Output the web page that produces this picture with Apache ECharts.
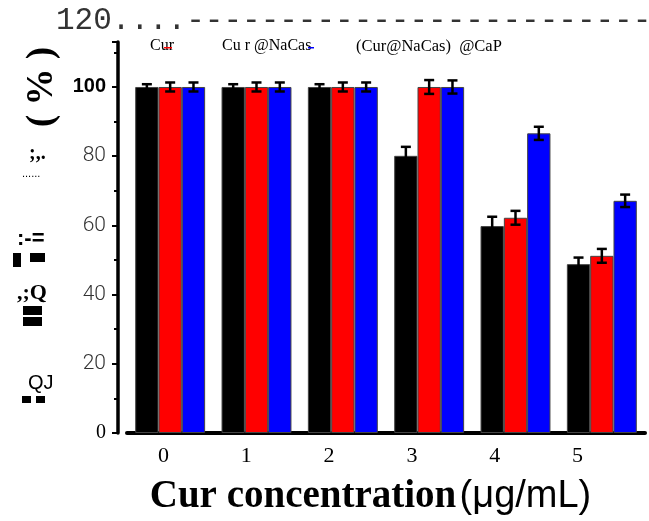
<!DOCTYPE html>
<html>
<head>
<meta charset="utf-8">
<script src="https://cdn.jsdelivr.net/npm/echarts@6/dist/echarts.min.js"></script>
<style>html,body{margin:0;padding:0;background:#fff;}#c{width:649px;height:521px;}</style>
</head>
<body>
<div id="c"></div>
<script>
var categories = ['0', '1', '2', '3', '4', '5'];
var seriesNames = ['Cur', 'Cur@NaCas', '(Cur@NaCas)@CaP'];
var curValues = [100, 100, 100, 80.1, 59.8, 48.8];
var curErrors = [0.8, 0.8, 0.8, 2.6, 2.7, 1.9];
var nacasValues = [100, 100, 100, 100, 62.2, 51.2];
var nacasErrors = [1.3, 1.3, 1.3, 2.0, 2.0, 2.0];
var capValues = [100, 100, 100, 100, 86.6, 67.1];
var capErrors = [1.3, 1.3, 1.3, 1.9, 1.9, 1.8];
var yTickLabels = ['0', '20', '40', '60', '80', '100'];

var colors = ['#000000', '#ff0000', '#0000ff'];
var valuesList = [curValues, nacasValues, capValues];
var errorsList = [curErrors, nacasErrors, capErrors];
var GAP = 0.19;

var chart = echarts.init(document.getElementById('c'));
var series = [];
valuesList.forEach(function (vals, i) {
  series.push({
    name: seriesNames[i], type: 'bar', xAxisIndex: 0, yAxisIndex: 0,
    data: vals, barGap: '0%', barCategoryGap: (GAP * 100) + '%',
    itemStyle: { color: colors[i], borderColor: '#444', borderWidth: 1 },
    silent: true, z: 2
  });
});
valuesList.forEach(function (vals, i) {
  series.push({
    name: seriesNames[i] + ' err', type: 'custom', xAxisIndex: 0, yAxisIndex: 0, z: 5, silent: true,
    data: vals.map(function (v, k) { return [k, v, errorsList[i][k]]; }),
    renderItem: function (params, api) {
      var cat = api.value(0), v = api.value(1), e = api.value(2);
      var c = api.coord([cat, v]);
      var band = api.size([1, 0])[0];
      var bw = band * (1 - GAP) / 3;
      var x = c[0] + (i - 1) * bw;
      var yt = api.coord([cat, v + e])[1];
      var yb = api.coord([cat, v - e])[1];
      var hw = 5;
      var st = { stroke: '#000', lineWidth: 2.5 };
      return { type: 'group', children: [
        { type: 'line', shape: { x1: x, y1: yt, x2: x, y2: yb }, style: st },
        { type: 'line', shape: { x1: x - hw, y1: yt, x2: x + hw, y2: yt }, style: st },
        { type: 'line', shape: { x1: x - hw, y1: yb, x2: x + hw, y2: yb }, style: st }
      ] };
    }
  });
});

var option = {
  animation: false,
  backgroundColor: '#fff',
  grid: [
    { left: 127, right: 4, top: 42, bottom: 88, containLabel: false },
    { left: 122, right: 30, top: 42, bottom: 88, containLabel: false }
  ],
  xAxis: [
    { type: 'category', gridIndex: 0, data: categories,
      axisLine: { show: true, lineStyle: { color: '#000', width: 4 } },
      axisTick: { show: false }, axisLabel: { show: false }, splitLine: { show: false } },
    { type: 'category', gridIndex: 1, data: categories,
      axisLine: { show: false }, axisTick: { show: false },
      axisLabel: { show: true, margin: 25, fontFamily: 'Liberation Serif', fontSize: 22, color: '#000' },
      name: '{a|Cur concentration} {b|(μg/mL)}', nameLocation: 'middle', nameGap: 57,
      nameTextStyle: { rich: {
        a: { fontFamily: 'Liberation Serif', fontWeight: 'bold', fontSize: 39, color: '#000' },
        b: { fontFamily: 'Liberation Sans', fontSize: 38, color: '#000' }
      } } }
  ],
  yAxis: [
    { type: 'value', gridIndex: 0, min: 0, max: 113, interval: 20, offset: 9,
      axisLine: { show: true, lineStyle: { color: '#000', width: 3.5 } },
      axisTick: { show: true, inside: false, length: 6, lineStyle: { color: '#000', width: 2 } },
      minorTick: { show: true, splitNumber: 2, length: 4, lineStyle: { color: '#000', width: 2 } },
      splitLine: { show: false },
      axisLabel: { showMaxLabel: false, margin: 12,
        formatter: function (v) {
          var s = String(v);
          if (yTickLabels.indexOf(s) < 0) return '';
          if (v === 100) return '{b|' + s + '}';
          if (v === 0) return '{s|' + s + '}';
          return '{l|' + s + '}';
        },
        rich: {
          b: { fontFamily: 'Liberation Sans', fontWeight: 'bold', fontSize: 20, color: '#000' },
          s: { fontFamily: 'Liberation Serif', fontSize: 20, color: '#000' },
          l: { fontFamily: 'Roboto', fontWeight: 300, fontSize: 21, color: '#333' }
        } } },
    { type: 'value', gridIndex: 1, min: 0, max: 113, show: false }
  ],
  series: series,
  graphic: [
    { type: 'text', left: 56, top: 5, silent: true,
      style: { text: '120....----------------------------', fontFamily: 'Liberation Mono', fontSize: 31, fill: '#333' } },
    { type: 'text', left: 150, top: 38, silent: true, style: { text: 'Cur', fontFamily: 'Liberation Serif', fontSize: 16, fill: '#000' } },
    { type: 'rect', shape: { x: 164, y: 47, width: 8, height: 1.5 }, style: { fill: '#ff0000' }, silent: true },
    { type: 'text', left: 222, top: 38, silent: true, style: { text: 'Cu r @NaCas', fontFamily: 'Liberation Serif', fontSize: 16, fill: '#000' } },
    { type: 'rect', shape: { x: 308, y: 47, width: 6, height: 1.5 }, style: { fill: '#0000ff' }, silent: true },
    { type: 'text', left: 356, top: 38, silent: true, style: { text: '(Cur@NaCas)  @CaP', fontFamily: 'Liberation Serif', fontSize: 16.5, fill: '#000' } },
    { type: 'text', x: 42, y: 87, rotation: Math.PI / 2, silent: true,
      style: { text: '( % )', fontFamily: 'Liberation Serif', fontWeight: 'bold', fontSize: 37, fill: '#000', align: 'center', verticalAlign: 'middle' } },
    { type: 'text', left: 29, top: 144, silent: true, style: { text: ';,.', fontFamily: 'Liberation Serif', fontWeight: 'bold', fontSize: 20, fill: '#000' } },
    { type: 'text', left: 22, top: 168, silent: true, style: { text: '......', fontFamily: 'Liberation Sans', fontSize: 11, fill: '#000' } },
    { type: 'text', left: 17, top: 228, silent: true, style: { text: ':-=', fontFamily: 'Liberation Sans', fontWeight: 'bold', fontSize: 22, fill: '#000' } },
    { type: 'rect', shape: { x: 13, y: 253, width: 8, height: 14 }, style: { fill: '#000' }, silent: true },
    { type: 'rect', shape: { x: 30, y: 253, width: 15, height: 9 }, style: { fill: '#000' }, silent: true },
    { type: 'text', left: 17, top: 282, silent: true, style: { text: ',;Q', fontFamily: 'Liberation Serif', fontWeight: 'bold', fontSize: 22, fill: '#000' } },
    { type: 'rect', shape: { x: 23, y: 306, width: 19, height: 9 }, style: { fill: '#000' }, silent: true },
    { type: 'rect', shape: { x: 23, y: 317, width: 19, height: 9 }, style: { fill: '#000' }, silent: true },
    { type: 'text', left: 28, top: 373, silent: true, style: { text: 'QJ', fontFamily: 'Liberation Sans', fontSize: 20, fill: '#000' } },
    { type: 'rect', shape: { x: 22, y: 396, width: 9, height: 7 }, style: { fill: '#000' }, silent: true },
    { type: 'rect', shape: { x: 36, y: 396, width: 9, height: 7 }, style: { fill: '#000' }, silent: true }
  ]
};
chart.setOption(option);
</script>
</body>
</html>
